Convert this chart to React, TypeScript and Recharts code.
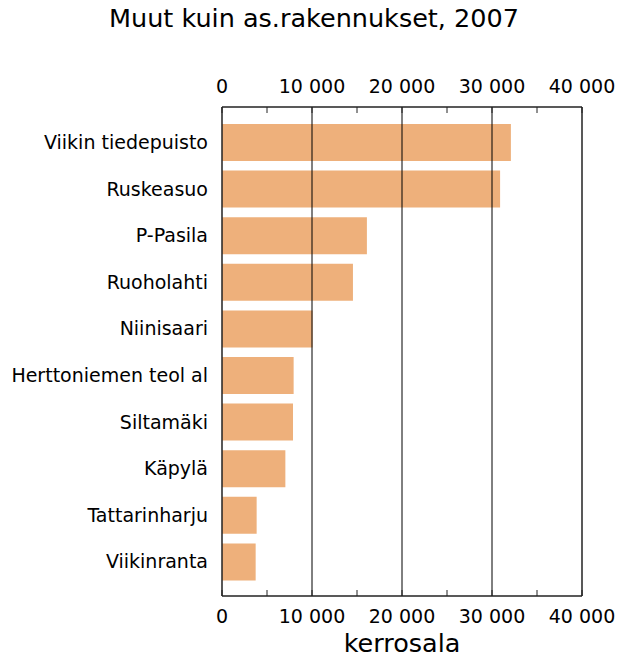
import React from 'react';
import {
  BarChart,
  Bar,
  XAxis,
  YAxis,
  ReferenceLine,
  Label,
} from 'recharts';

const areas = [
  'Viikin tiedepuisto',
  'Ruskeasuo',
  'P-Pasila',
  'Ruoholahti',
  'Niinisaari',
  'Herttoniemen teol al',
  'Siltamäki',
  'Käpylä',
  'Tattarinharju',
  'Viikinranta',
];
const floorArea = [32100, 30900, 16100, 14550, 10070, 7960, 7890, 7040, 3850, 3740];
const xTicks = [0, 5000, 10000, 15000, 20000, 25000, 30000, 35000, 40000];
const gridValues = [10000, 20000, 30000];

const data = areas.map((name, i) => ({ name, value: floorArea[i] }));

const FONT = '"DejaVu Sans", Verdana, sans-serif';
const BAR_COLOR = '#EEB07B';
const BORDER = { stroke: '#222', strokeWidth: 1.5 };
const tickStyle = { fill: '#000', fontSize: 19, fontFamily: FONT };

const fmt = (v: number) =>
  v % 10000 === 0 ? String(v).replace(/\B(?=(\d{3})+(?!\d))/g, ' ') : '';

// main chart: plot box top at 107, bottom axis below
const MAIN = { top: 107, right: 46, bottom: 5, left: 12 };
// overlay: top axis takes 30px above the same plot box
const OVER = { top: 77, right: 46, bottom: 61, left: 12 };

export default function App() {
  return (
    <div style={{ position: 'absolute', left: 0, top: 0, width: 628, height: 657, background: '#fff', fontFamily: FONT }}>
      <div
        style={{
          position: 'absolute',
          left: 0,
          top: 3,
          width: 628,
          textAlign: 'center',
          fontSize: 25.5,
          color: '#000',
        }}
      >
        Muut kuin as.rakennukset, 2007
      </div>
      <div style={{ position: 'absolute', left: 0, top: 0 }}>
        <BarChart width={628} height={657} data={data} layout="vertical" margin={MAIN}>
          <XAxis
            type="number"
            domain={[0, 40000]}
            ticks={xTicks}
            tickFormatter={fmt}
            interval={0}
            height={56}
            axisLine={BORDER}
            tickLine={{ stroke: '#222' }}
            tickSize={-6}
            tickMargin={20}
            tick={tickStyle}
          >
            <Label
              value="kerrosala"
              position="insideBottom"
              offset={0}
              style={{ fill: '#000', fontSize: 25.5, fontFamily: FONT }}
            />
          </XAxis>
          <YAxis
            type="category"
            dataKey="name"
            width={210}
            padding={{ top: 12, bottom: 11 }}
            axisLine={BORDER}
            tickLine={false}
            tickSize={0}
            tickMargin={14}
            interval={0}
            tick={tickStyle}
          />
          {gridValues.map((v) => (
            <ReferenceLine key={v} x={v} stroke="#000" strokeWidth={1} />
          ))}
          <ReferenceLine x={40000} stroke="#222" strokeWidth={1.5} />
          <Bar dataKey="value" fill={BAR_COLOR} barSize={37} isAnimationActive={false} />
        </BarChart>
      </div>
      {/* top axis drawn by an overlay chart that shares the same plot box */}
      <div style={{ position: 'absolute', left: 0, top: 0, pointerEvents: 'none' }}>
        <BarChart width={628} height={657} data={data} layout="vertical" margin={OVER}>
          <XAxis
            xAxisId="top"
            orientation="top"
            type="number"
            domain={[0, 40000]}
            ticks={xTicks}
            tickFormatter={fmt}
            interval={0}
            height={30}
            axisLine={BORDER}
            tickLine={{ stroke: '#222' }}
            tickSize={-6}
            tickMargin={20}
            tick={tickStyle}
          />
          <YAxis
            type="category"
            dataKey="name"
            width={210}
            padding={{ top: 12, bottom: 11 }}
            axisLine={false}
            tickLine={false}
            tick={false}
          />
          <Bar xAxisId="top" dataKey="value" fill="none" barSize={37} isAnimationActive={false} />
        </BarChart>
      </div>
    </div>
  );
}
